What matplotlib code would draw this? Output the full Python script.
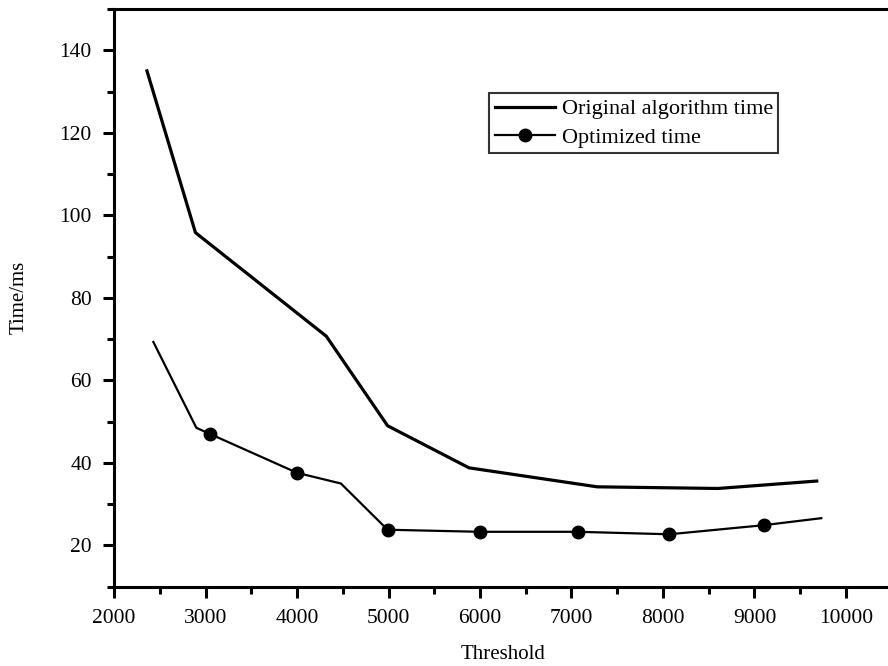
import matplotlib
matplotlib.use("Agg")
import matplotlib.pyplot as plt
from matplotlib.ticker import MultipleLocator

# data
orig_x = [2360, 2890, 4320, 4990, 5880, 7280, 8600, 9680]
orig_y = [135.0, 95.8, 70.7, 49.0, 38.8, 34.2, 33.8, 35.6]

opt_x = [2430, 2900, 3050, 4000, 4480, 4990, 6000, 7070, 8070, 9100, 9730]
opt_y = [69.3, 48.5, 47.0, 37.6, 35.0, 23.8, 23.3, 23.3, 22.7, 24.9, 26.6]
opt_marks = [2, 3, 5, 6, 7, 8, 9]  # points drawn with a dot

plt.rcParams['font.family'] = ['Liberation Serif', 'DejaVu Serif']

fig = plt.figure(figsize=(8.88, 6.66), dpi=100)
ax = fig.add_axes([0.1284, 0.1191, 0.8758, 0.8674])

ax.plot(orig_x, orig_y, color='black', lw=2.3, label='Original algorithm time')
ax.plot(opt_x, opt_y, color='black', lw=1.6, marker='o', ms=9,
        markevery=opt_marks, label='Optimized time')

ax.set_xlim(2000, 10500)
ax.set_ylim(10, 150)
ax.xaxis.set_major_locator(MultipleLocator(1000))
ax.xaxis.set_minor_locator(MultipleLocator(500))
ax.yaxis.set_major_locator(MultipleLocator(20))
ax.yaxis.set_minor_locator(MultipleLocator(10))
ax.set_yticks(range(20, 141, 20))

for s in ax.spines.values():
    s.set_linewidth(2.2)
ax.tick_params(which='major', direction='out', length=8, width=2.2,
               labelsize=15.5, pad=8)
ax.tick_params(which='minor', direction='out', length=5, width=2.2)

ax.set_xlabel('Threshold', fontsize=15, labelpad=12)
ax.set_ylabel('Time/ms', fontsize=15, labelpad=22)

leg = ax.legend(loc='upper left', bbox_to_anchor=(489.3 / 888, 1 - 93.3 / 666),
                bbox_transform=fig.transFigure, fontsize=16, frameon=True,
                fancybox=False, edgecolor='black', handlelength=2.7,
                handletextpad=0.3, borderpad=0.25, labelspacing=0.35,
                borderaxespad=0)
leg.get_frame().set_linewidth(1.5)

fig.savefig('out.png', dpi=100)
